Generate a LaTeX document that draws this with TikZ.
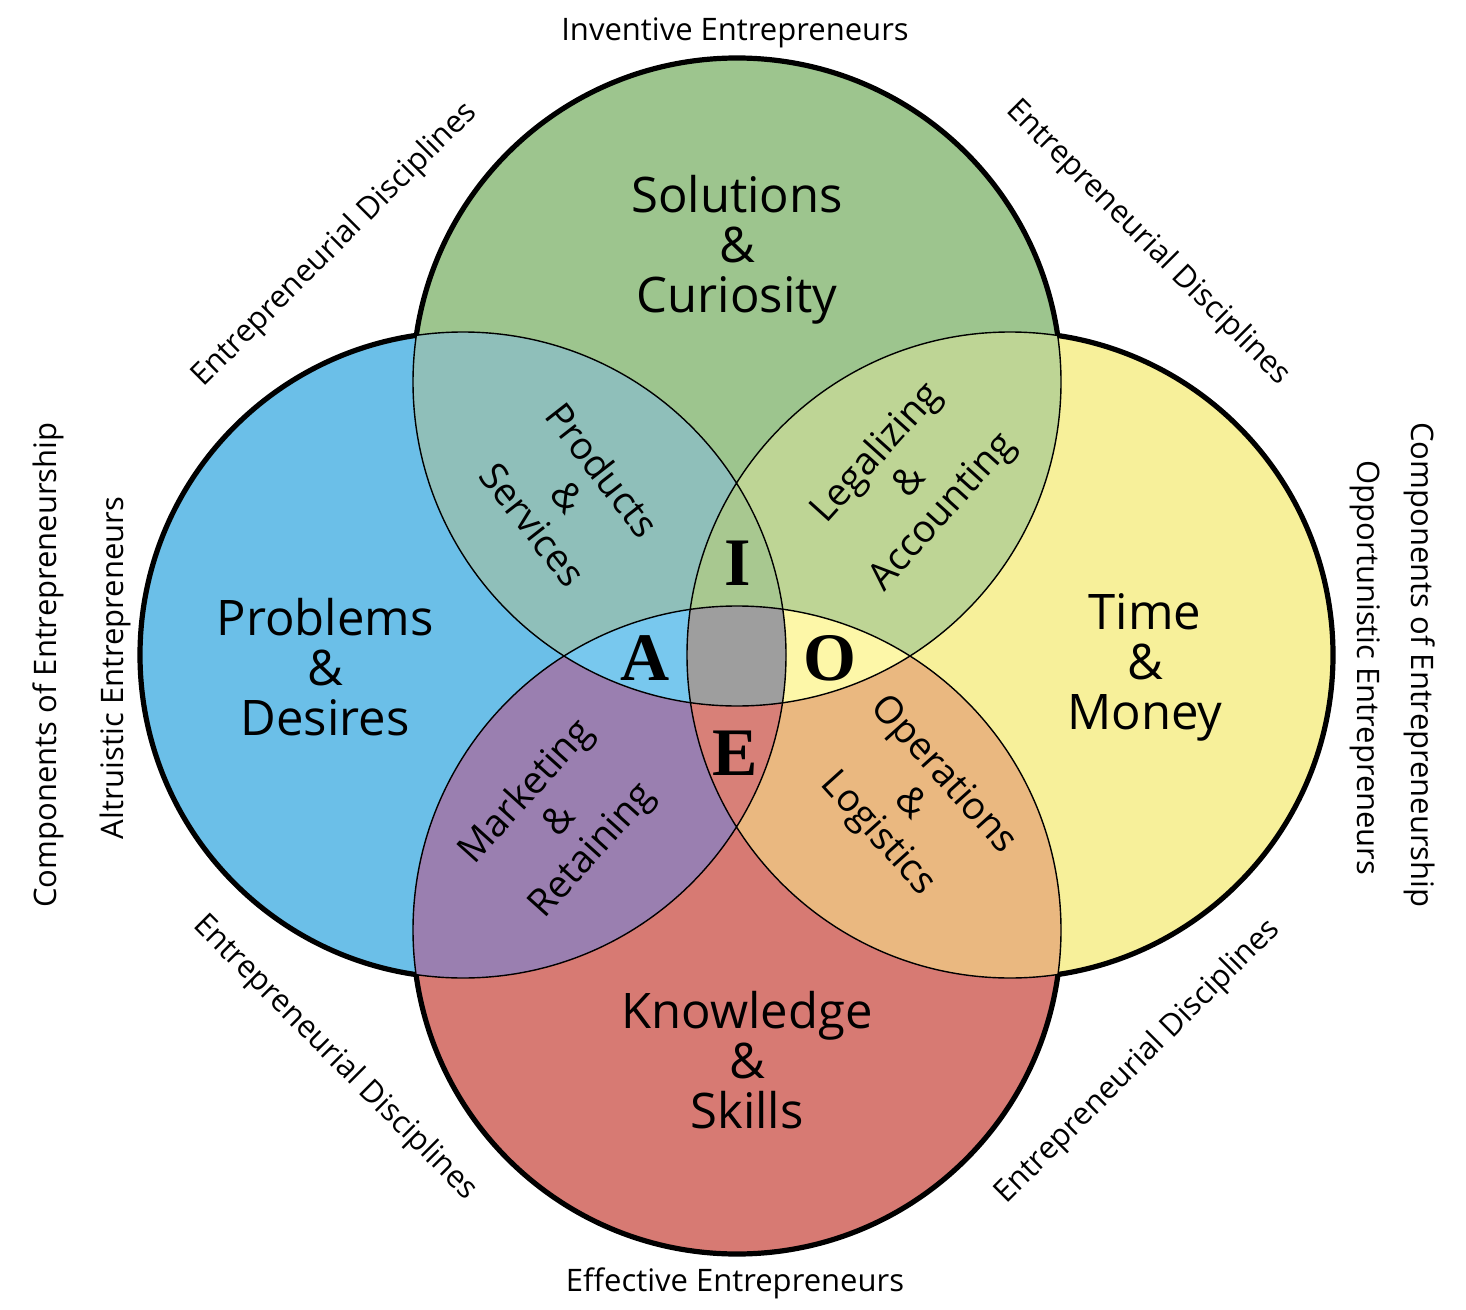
\documentclass[tikz,border=0pt]{standalone}
\usepackage{fontspec}
\setmainfont{Open Sans}
\newfontfamily\serifb{Liberation Serif}
\definecolor{cB}{HTML}{6BBFE8}
\definecolor{cG}{HTML}{9DC58E}
\definecolor{cY}{HTML}{F7F09A}
\definecolor{cR}{HTML}{D77A73}
\definecolor{cBG}{HTML}{8FBFBA}
\definecolor{cGY}{HTML}{BED595}
\definecolor{cBR}{HTML}{9A7FB0}
\definecolor{cYR}{HTML}{EAB880}
\definecolor{cA}{HTML}{78C8EE}
\definecolor{cO}{HTML}{FDF7A8}
\definecolor{cI}{HTML}{A8C890}
\definecolor{cE}{HTML}{D88078}
\definecolor{cX}{HTML}{9E9E9E}
\begin{document}
\begin{tikzpicture}[x=0.5pt,y=-0.5pt,
  big/.style={align=center,font=\fontsize{24.5}{25}\selectfont},
  mid/.style={align=center,font=\fontsize{19}{22}\selectfont},
  let/.style={font=\serifb\bfseries\fontsize{34}{34}\selectfont},
  outer/.style={font=\fontsize{15.5}{16}\selectfont}]
\useasboundingbox (0,0) rectangle (1466,1310);
\def\Lc{(463,655) circle[radius=323]}
\def\Tc{(737,382) circle[radius=324]}
\def\Rc{(1010,655) circle[radius=323]}
\def\Bc{(737,930) circle[radius=324]}
\fill[cB] \Lc; \fill[cG] \Tc; \fill[cY] \Rc; \fill[cR] \Bc;
\begin{scope}\clip \Lc; \fill[cBG] \Tc; \end{scope}
\begin{scope}\clip \Tc; \fill[cGY] \Rc; \end{scope}
\begin{scope}\clip \Lc; \fill[cBR] \Bc; \end{scope}
\begin{scope}\clip \Rc; \fill[cYR] \Bc; \end{scope}
\begin{scope}\clip \Lc; \clip \Tc; \fill[cA] \Bc; \end{scope}
\begin{scope}\clip \Rc; \clip \Tc; \fill[cO] \Bc; \end{scope}
\begin{scope}\clip \Lc; \clip \Tc; \fill[cI] \Rc; \end{scope}
\begin{scope}\clip \Lc; \clip \Bc; \fill[cE] \Rc; \end{scope}
\begin{scope}\clip \Lc; \clip \Bc; \clip \Rc; \fill[cX] \Tc; \end{scope}
\draw[line width=0.7pt] \Lc \Tc \Rc \Bc;
\begin{scope}[even odd rule]
\def\Big{(-100,-100) rectangle (1600,1400)}
\begin{scope}\clip \Big \Tc; \clip \Big \Rc; \clip \Big \Bc; \draw[line width=2.6pt] \Lc; \end{scope}
\begin{scope}\clip \Big \Lc; \clip \Big \Rc; \clip \Big \Bc; \draw[line width=2.6pt] \Tc; \end{scope}
\begin{scope}\clip \Big \Tc; \clip \Big \Lc; \clip \Big \Bc; \draw[line width=2.6pt] \Rc; \end{scope}
\begin{scope}\clip \Big \Tc; \clip \Big \Rc; \clip \Big \Lc; \draw[line width=2.6pt] \Bc; \end{scope}
\end{scope}
\node[big] (sol) at (737,250) {Solutions\\\&\\Curiosity};
\node[big] (pro) at (325,667) {Problems\\\&\\Desires};
\node[big] (tim) at (1145,667) {Time\\\&\\Money};
\node[big] (kno) at (747,1060) {Knowledge\\\&\\Skills};
\node[mid,rotate=-52] (ps) at (568,497) {Products\\\&\\Services};
\node[mid,rotate=48] (la) at (910,483) {Legalizing\\\&\\Accounting};
\node[mid,rotate=48] (mr) at (560,822) {Marketing\\\&\\Retaining};
\node[mid,rotate=-48] (ol) at (910,805) {Operations\\\&\\Logistics};
\node[let] (I) at (738,563) {I};
\node[let] (A) at (645,658) {A};
\node[let] (O) at (830,658) {O};
\node[let] (E) at (735,753) {E};
\node[outer] (t1) at (735,33) {Inventive Entrepreneurs};
\node[outer] (t2) at (735,1283) {Effective Entrepreneurs};
\node[outer,rotate=90] (t3) at (48,665) {Components of Entrepreneurship};
\node[outer,rotate=90] (t4) at (115,668) {Altruistic Entrepreneurs};
\node[outer,rotate=-90] (t5) at (1420,665) {Components of Entrepreneurship};
\node[outer,rotate=-90] (t6) at (1365,668) {Opportunistic Entrepreneurs};
\node[outer,rotate=45] (d1) at (335,245) {Entrepreneurial Disciplines};
\node[outer,rotate=-45] (d2) at (1148,243) {Entrepreneurial Disciplines};
\node[outer,rotate=-45] (d3) at (335,1058) {Entrepreneurial Disciplines};
\node[outer,rotate=45] (d4) at (1138,1062) {Entrepreneurial Disciplines};
\end{tikzpicture}
\end{document}
